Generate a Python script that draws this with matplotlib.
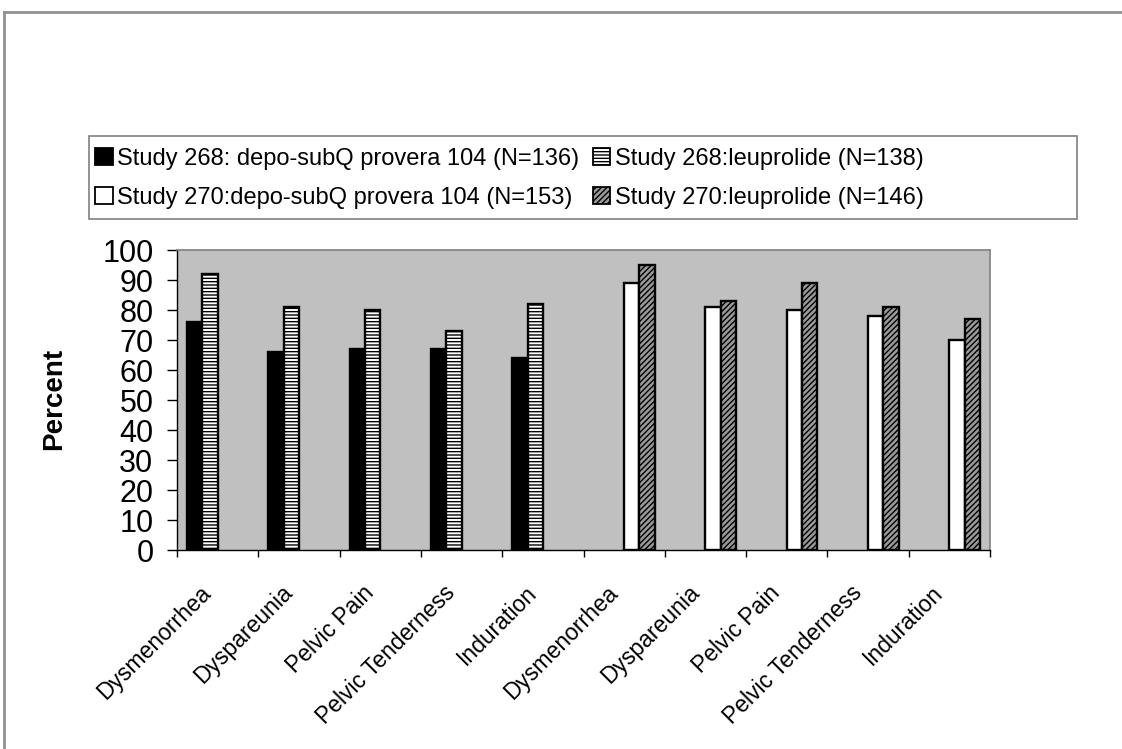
import numpy as np
import matplotlib
matplotlib.use('Agg')
import matplotlib.pyplot as plt
from matplotlib.patches import Rectangle, Patch
from matplotlib.lines import Line2D
from matplotlib.transforms import ScaledTranslation

plt.rcParams['font.family'] = ['Liberation Sans', 'DejaVu Sans']
plt.rcParams['hatch.linewidth'] = 1.0

# Dados (percentual de pacientes)
categorias = ['Dysmenorrhea', 'Dyspareunia', 'Pelvic Pain', 'Pelvic Tenderness', 'Induration',
              'Dysmenorrhea', 'Dyspareunia', 'Pelvic Pain', 'Pelvic Tenderness', 'Induration']

series_nomes = ['Study 268: depo-subQ provera 104 (N=136)',
                'Study 268:leuprolide (N=138)',
                'Study 270:depo-subQ provera 104 (N=153)',
                'Study 270:leuprolide (N=146)']

# Estudo 268 so tem valores nas 5 primeiras categorias, estudo 270 nas 5 ultimas
s268_provera = [76, 66, 67, 67, 64, 0, 0, 0, 0, 0]
s268_leuprolide = [92, 81, 80, 73, 82, 0, 0, 0, 0, 0]
s270_provera = [0, 0, 0, 0, 0, 89, 81, 80, 78, 70]
s270_leuprolide = [0, 0, 0, 0, 0, 95, 83, 89, 81, 77]

y_ticks = [0, 10, 20, 30, 40, 50, 60, 70, 80, 90, 100]

fig = plt.figure(figsize=(11.22, 7.49), dpi=100)
ax = fig.add_axes([177 / 1122, 1 - 550 / 749, (990 - 177) / 1122, 300 / 749])
ax.set_facecolor('#c0c0c0')

x = np.arange(len(categorias))
w = 0.1875
estilos = [
    dict(color='black', hatch=None),
    dict(color='white', hatch='-----'),
    dict(color='white', hatch=None),
    dict(color='#9a9a9a', hatch='//////'),
]
valores = [s268_provera, s268_leuprolide, s270_provera, s270_leuprolide]

handles = []
for i, (vals, est) in enumerate(zip(valores, estilos)):
    vals = np.array(vals, dtype=float)
    vals[vals == 0] = np.nan
    ax.bar(x + (i - 1.5) * w, vals, width=w, facecolor=est['color'], edgecolor='black',
           linewidth=1.7, hatch=est['hatch'], zorder=2)
    handles.append(Patch(facecolor=est['color'], edgecolor='black', hatch=est['hatch'],
                         linewidth=1.3, label=series_nomes[i]))

ax.set_xlim(-0.5, len(categorias) - 0.5)
ax.set_ylim(0, 100)
ax.set_yticks(y_ticks)
ax.tick_params(axis='y', direction='out', length=7, width=1, pad=10, labelsize=22)

# ticks nas fronteiras das categorias
ax.set_xticks(np.arange(-0.5, len(categorias), 1.0))
ax.set_xticklabels([])
ax.tick_params(axis='x', which='major', direction='out', length=5, width=1)

# rotulos das categorias, inclinados como no Excel
desloc = ScaledTranslation(-18 / 100, -31 / 100, fig.dpi_scale_trans)
for xi, nome in zip(x, categorias):
    ax.text(xi, 0, nome, transform=ax.get_xaxis_transform() + desloc, rotation=45,
            ha='right', va='top', rotation_mode='anchor', fontsize=16.5)

for lado in ['top', 'right']:
    ax.spines[lado].set_color('#808080')
    ax.spines[lado].set_linewidth(1.2)
for lado in ['left', 'bottom']:
    ax.spines[lado].set_color('black')
    ax.spines[lado].set_linewidth(1.0)

fig.text(54 / 1122, 1 - 399 / 749, 'Percent', rotation=90, ha='center', va='center',
         fontsize=20, fontweight='bold')

# legenda com moldura desenhada a parte
fig.patches.append(Rectangle((89 / 1122, 1 - 219 / 749), 988 / 1122, 83 / 749,
                             transform=fig.transFigure, facecolor='white',
                             edgecolor='#808080', linewidth=1.2, zorder=0))
leg = fig.legend(handles=[handles[0], handles[2], handles[1], handles[3]],
                 labels=[series_nomes[0], series_nomes[2], series_nomes[1], series_nomes[3]],
                 ncol=2, loc='upper left', bbox_to_anchor=(95 / 1122, 1 - 148 / 749),
                 frameon=False, fontsize=17, handlelength=0.75, handleheight=0.75,
                 handletextpad=0.2, labelspacing=0.72, columnspacing=0.55,
                 borderpad=0, borderaxespad=0)

# moldura externa (so topo e esquerda)
fig.add_artist(Line2D([4 / 1122, 1], [1 - 12 / 749, 1 - 12 / 749], transform=fig.transFigure,
                      color='#909090', linewidth=2))
fig.add_artist(Line2D([4 / 1122, 4 / 1122], [0, 1 - 12 / 749], transform=fig.transFigure,
                      color='#909090', linewidth=2))

fig.savefig('out.png', dpi=100)
